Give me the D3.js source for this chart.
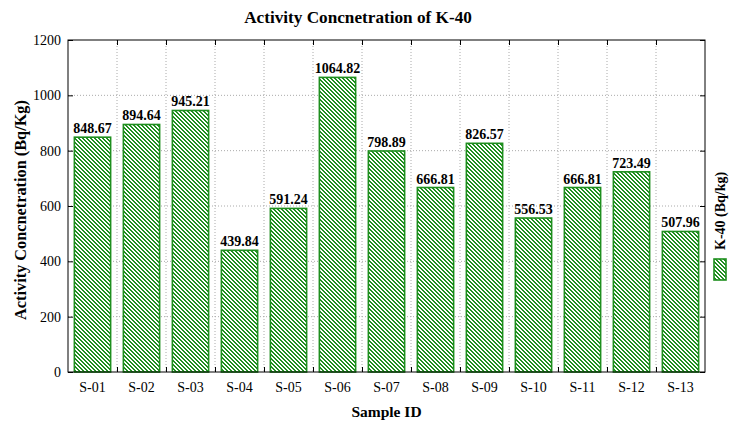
<!DOCTYPE html>
<html>
<head>
<meta charset="utf-8">
<script src="https://cdn.jsdelivr.net/npm/d3@7"></script>
<style>
  body { margin: 0; background: #fff; }
  text { font-family: "Liberation Serif", "Times New Roman", serif; }
</style>
</head>
<body>
<div id="chart"></div>
<script>
const samples = ["S-01","S-02","S-03","S-04","S-05","S-06","S-07","S-08","S-09","S-10","S-11","S-12","S-13"];
const k40 = [848.67, 894.64, 945.21, 439.84, 591.24, 1064.82, 798.89, 666.81, 826.57, 556.53, 666.81, 723.49, 507.96];
const yTicks = [0, 200, 400, 600, 800, 1000, 1200];

const width = 736, height = 428;
const margin = {top: 40, right: 31, bottom: 56, left: 68};
const innerW = width - margin.left - margin.right;
const innerH = height - margin.top - margin.bottom;
const green = "#1f8f1f";

const svg = d3.select("#chart").append("svg")
    .attr("width", width)
    .attr("height", height);

// hatch pattern: 4px diagonal stripes, top-left to bottom-right
const defs = svg.append("defs");
const pat = defs.append("pattern")
    .attr("id", "stripes")
    .attr("patternUnits", "userSpaceOnUse")
    .attr("width", 4).attr("height", 4);
pat.append("rect").attr("width", 4).attr("height", 4).attr("fill", "#fff");
[0, 1, 2, 3].forEach(i => {
    pat.append("rect").attr("x", i).attr("y", i).attr("width", 2).attr("height", 1).attr("fill", green);
});
pat.append("rect").attr("x", 0).attr("y", 3).attr("width", 1).attr("height", 1).attr("fill", green);

const g = svg.append("g").attr("transform", `translate(${margin.left},${margin.top})`);

const x = d3.scaleBand().domain(samples).range([0, innerW]).paddingInner(0.26).paddingOuter(0.13);
const y = d3.scaleLinear().domain([0, 1200]).range([innerH, 0]);

// grid lines: horizontal at ticks, vertical at category boundaries
const step = x.step();
const bounds = d3.range(1, samples.length);
g.append("g").selectAll("line")
    .data(yTicks.slice(1, -1))
    .enter().append("line")
    .attr("x1", 0).attr("x2", innerW)
    .attr("y1", d => y(d)).attr("y2", d => y(d))
    .attr("stroke", "#aaa").attr("stroke-dasharray", "1,2");
g.append("g").selectAll("line")
    .data(bounds)
    .enter().append("line")
    .attr("x1", d => d * step).attr("x2", d => d * step)
    .attr("y1", 0).attr("y2", innerH)
    .attr("stroke", "#aaa").attr("stroke-dasharray", "1,2");

// bars
g.append("g").selectAll("rect")
    .data(samples)
    .enter().append("rect")
    .attr("x", d => x(d))
    .attr("y", (d, i) => y(k40[i]))
    .attr("width", x.bandwidth())
    .attr("height", (d, i) => innerH - y(k40[i]))
    .attr("fill", "url(#stripes)")
    .attr("stroke", green)
    .attr("stroke-width", 1.6);

// value labels
g.append("g").selectAll("text")
    .data(samples)
    .enter().append("text")
    .attr("x", d => x(d) + x.bandwidth() / 2)
    .attr("y", (d, i) => y(k40[i]) - 4)
    .attr("text-anchor", "middle")
    .attr("font-weight", "bold")
    .attr("font-size", 14)
    .text((d, i) => k40[i].toFixed(2));

// frame
g.append("rect")
    .attr("width", innerW).attr("height", innerH)
    .attr("fill", "none").attr("stroke", "#000").attr("stroke-width", 1);

// axes (inner ticks)
const yAxis = d3.axisLeft(y).tickValues(yTicks).tickSize(-5).tickPadding(7).tickFormat(d3.format("d"));
const gy = g.append("g").call(yAxis);
gy.select(".domain").remove();
gy.selectAll("text").attr("font-size", 14).attr("font-family", "Liberation Serif");

const gyr = g.append("g").attr("transform", `translate(${innerW},0)`)
    .call(d3.axisRight(y).tickValues(yTicks).tickSize(-5).tickFormat(""));
gyr.select(".domain").remove();

const xb = d3.scaleLinear().domain([0, samples.length]).range([0, innerW]);
const gxb = g.append("g").attr("transform", `translate(0,${innerH})`)
    .call(d3.axisBottom(xb).tickValues(bounds).tickSize(-5).tickFormat(""));
gxb.select(".domain").remove();
const gxt = g.append("g")
    .call(d3.axisTop(xb).tickValues(bounds).tickSize(-5).tickFormat(""));
gxt.select(".domain").remove();

const gx = g.append("g").attr("transform", `translate(0,${innerH})`)
    .call(d3.axisBottom(x).tickSize(0).tickPadding(10));
gx.select(".domain").remove();
gx.selectAll("text").attr("font-size", 14).attr("font-family", "Liberation Serif");

// titles
svg.append("text")
    .attr("x", 358).attr("y", 23)
    .attr("text-anchor", "middle")
    .attr("font-weight", "bold").attr("font-size", 17.2)
    .text("Activity Concnetration of K-40");

svg.append("text")
    .attr("x", margin.left + innerW / 2).attr("y", 417)
    .attr("text-anchor", "middle")
    .attr("font-weight", "bold").attr("font-size", 15.5)
    .text("Sample ID");

svg.append("text")
    .attr("transform", `translate(26,210) rotate(-90)`)
    .attr("text-anchor", "middle")
    .attr("font-weight", "bold").attr("font-size", 16.3)
    .text("Activity Concnetration (Bq/Kg)");

// legend
const lg = svg.append("g");
lg.append("rect")
    .attr("x", 714).attr("y", 259).attr("width", 12).attr("height", 21)
    .attr("fill", "url(#stripes)").attr("stroke", green).attr("stroke-width", 1.6);
lg.append("text")
    .attr("transform", "translate(725,250) rotate(-90)")
    .attr("font-weight", "bold").attr("font-size", 14)
    .text("K-40 (Bq/kg)");
</script>
</body>
</html>
